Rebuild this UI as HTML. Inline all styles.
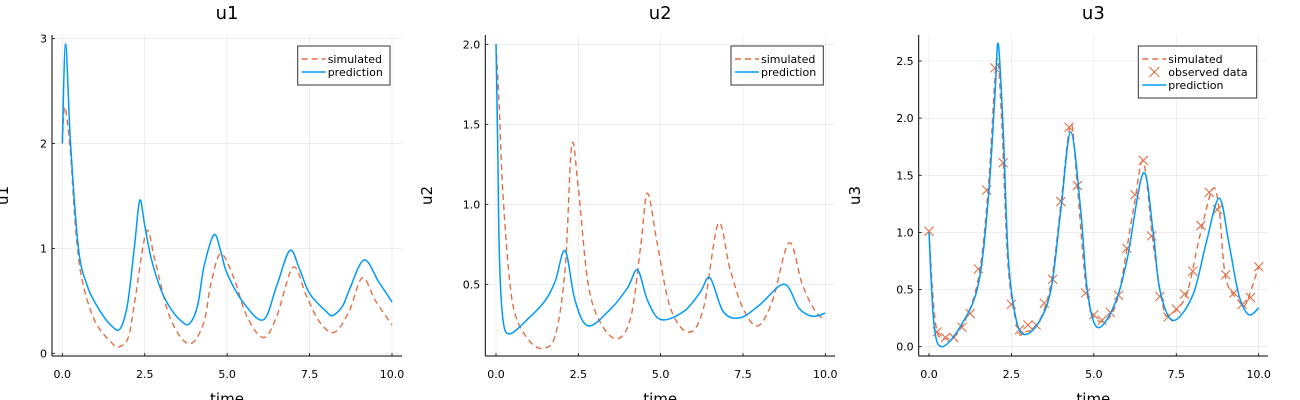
<!DOCTYPE html>
<html><head><meta charset="utf-8"><style>
body{margin:0;background:#fff;}
svg{display:block;font-family:"DejaVu Sans","Liberation Sans",sans-serif;}
</style></head><body>
<svg id="chart" width="1300" height="400" viewBox="0 0 1300 400"></svg>
<script>
// ---- data ----
const xTicks = [0, 2.5, 5, 7.5, 10];
const xTickLabels = ["0.0", "2.5", "5.0", "7.5", "10.0"];
const u1Ticks = [0, 1, 2, 3];
const u1TickLabels = ["0", "1", "2", "3"];
const u2Ticks = [0.5, 1.0, 1.5, 2.0];
const u2TickLabels = ["0.5", "1.0", "1.5", "2.0"];
const u3Ticks = [0, 0.5, 1.0, 1.5, 2.0, 2.5];
const u3TickLabels = ["0.0", "0.5", "1.0", "1.5", "2.0", "2.5"];

const u1PredT = [0,0.1,0.25,0.49,0.75,1.0,1.3,1.5,1.7,1.85,2.0,2.2,2.35,2.5,2.7,3.0,3.3,3.6,3.85,4.1,4.3,4.6,4.8,5.0,5.5,6.1,6.5,6.9,7.2,7.5,8.0,8.2,8.5,8.7,9.15,9.6,10];
const u1PredV = [2.0,2.95,2.0,1.0,0.65,0.48,0.33,0.26,0.22,0.3,0.51,1.05,1.46,1.22,0.9,0.6,0.42,0.31,0.28,0.45,0.83,1.13,0.98,0.76,0.48,0.32,0.64,0.98,0.8,0.57,0.4,0.36,0.45,0.6,0.89,0.68,0.49];
const u1SimT = [0,0.08,0.25,0.4,0.6,1.0,1.5,1.7,2.0,2.2,2.55,2.8,3.2,3.6,3.95,4.3,4.5,4.8,5.2,5.6,6.1,6.5,7.0,7.4,7.8,8.25,8.7,9.1,9.5,10];
const u1SimV = [2.0,2.35,1.9,1.2,0.7,0.3,0.1,0.06,0.15,0.5,1.16,0.9,0.4,0.15,0.1,0.3,0.65,0.95,0.72,0.35,0.15,0.35,0.82,0.55,0.3,0.2,0.4,0.72,0.5,0.27];

const u2PredT = [0,0.05,0.1,0.2,0.4,1.0,1.5,1.8,2.1,2.4,2.8,3.5,4.0,4.3,4.6,5.0,5.7,6.2,6.5,6.9,7.4,8.0,8.75,9.2,9.6,10];
const u2PredV = [2.0,1.4,0.7,0.3,0.19,0.29,0.4,0.52,0.71,0.4,0.24,0.35,0.48,0.59,0.4,0.28,0.33,0.45,0.54,0.33,0.29,0.37,0.5,0.35,0.3,0.32];
const u2SimT = [0,0.1,0.2,0.4,0.6,1.0,1.4,1.8,2.1,2.3,2.5,2.8,3.2,3.7,4.1,4.4,4.6,4.9,5.3,5.85,6.3,6.75,7.1,7.5,7.95,8.4,8.9,9.3,9.7,10];
const u2SimV = [2.0,1.6,1.1,0.55,0.3,0.15,0.1,0.18,0.6,1.37,1.1,0.5,0.25,0.16,0.3,0.75,1.07,0.75,0.35,0.2,0.35,0.88,0.6,0.35,0.24,0.4,0.76,0.5,0.33,0.28];

const u3PredT = [0,0.15,0.4,1.0,1.5,1.8,2.0,2.1,2.25,2.4,2.6,2.85,3.3,3.7,4.0,4.3,4.6,4.8,5.1,5.6,6.0,6.5,6.8,7.0,7.4,8.0,8.4,8.8,9.1,9.4,9.7,10];
const u3PredV = [1.0,0.2,0.0,0.2,0.55,1.3,2.2,2.65,1.9,0.8,0.3,0.11,0.2,0.5,1.2,1.88,1.2,0.5,0.17,0.35,0.75,1.52,1.0,0.5,0.23,0.45,0.9,1.3,0.9,0.45,0.28,0.34];
const u3SimT = [0,0.2,0.5,1.0,1.5,1.8,2.05,2.2,2.4,2.7,2.9,3.3,3.7,4.0,4.3,4.5,4.8,5.2,5.7,6.2,6.5,6.8,7.1,7.3,7.8,8.2,8.6,8.8,9.0,9.4,9.6,10];
const u3SimV = [1.0,0.2,0.07,0.18,0.6,1.4,2.5,2.0,0.7,0.15,0.13,0.2,0.55,1.25,1.95,1.4,0.45,0.22,0.4,1.2,1.62,0.9,0.35,0.28,0.45,0.95,1.38,1.2,0.6,0.4,0.37,0.7];
const u3ObsT = [0,0.25,0.5,0.75,1,1.25,1.5,1.75,2,2.25,2.5,2.75,3,3.25,3.5,3.75,4,4.25,4.5,4.75,5,5.25,5.5,5.75,6,6.25,6.5,6.75,7,7.25,7.5,7.75,8,8.25,8.5,8.75,9,9.25,9.5,9.75,10];
const u3ObsV = [1.01,0.13,0.08,0.08,0.17,0.29,0.68,1.37,2.44,1.61,0.37,0.15,0.19,0.19,0.38,0.59,1.27,1.92,1.41,0.47,0.28,0.23,0.30,0.45,0.86,1.33,1.63,0.97,0.44,0.26,0.33,0.46,0.66,1.06,1.35,1.2,0.63,0.47,0.37,0.43,0.70];

const SIM = "#e26f46", PRED = "#009af9";
const NS = "http://www.w3.org/2000/svg";
const svg = document.getElementById("chart");
function mk(tag, attrs, parent){ const e=document.createElementNS(NS,tag); for(const k in attrs) e.setAttribute(k,attrs[k]); (parent||svg).appendChild(e); return e; }
function smooth(pts){
  let d="M"+pts[0][0].toFixed(2)+","+pts[0][1].toFixed(2);
  for(let i=0;i<pts.length-1;i++){
    const p0=pts[Math.max(0,i-1)],p1=pts[i],p2=pts[i+1],p3=pts[Math.min(pts.length-1,i+2)];
    const c1=[p1[0]+(p2[0]-p0[0])/6,p1[1]+(p2[1]-p0[1])/6];
    const c2=[p2[0]-(p3[0]-p1[0])/6,p2[1]-(p3[1]-p1[1])/6];
    d+=" C"+c1[0].toFixed(2)+","+c1[1].toFixed(2)+" "+c2[0].toFixed(2)+","+c2[1].toFixed(2)+" "+p2[0].toFixed(2)+","+p2[1].toFixed(2);
  }
  return d;
}

function panel(cfg){
  const g = mk("g",{});
  
  
  const X = t => cfg.x0 + (t-0)*(cfg.x10-cfg.x0)/10;
  const Y = v => cfg.ya + (v-cfg.va)*(cfg.yb-cfg.ya)/(cfg.vb-cfg.va);
  xTicks.forEach(t=>{ const l=mk("line",{x1:X(t),x2:X(t),y1:cfg.top,y2:cfg.bottom,stroke:"#000","stroke-opacity":0.1,"stroke-width":0.6},g);
      });
  cfg.yTicks.forEach(v=>{ const l=mk("line",{x1:cfg.left,x2:cfg.right,y1:Y(v),y2:Y(v),stroke:"#000","stroke-opacity":0.1,"stroke-width":0.6},g);
      });
  const ax=mk("line",{x1:cfg.left,x2:cfg.right,y1:cfg.bottom,y2:cfg.bottom,stroke:"#000","stroke-width":1},g);
   
  const ay=mk("line",{x1:cfg.left,x2:cfg.left,y1:cfg.top,y2:cfg.bottom,stroke:"#000","stroke-width":1},g);
   
  xTicks.forEach((t,i)=>{
    mk("line",{x1:X(t),x2:X(t),y1:cfg.bottom,y2:cfg.bottom-3,stroke:"#000","stroke-width":0.8},g);
    const tx=mk("text",{x:X(t),y:cfg.bottom+22,"text-anchor":"middle","font-size":11,fill:"#000"},g);
    tx.textContent=xTickLabels[i];
     
  });
  cfg.yTicks.forEach((v,i)=>{
    mk("line",{x1:cfg.left,x2:cfg.left+3,y1:Y(v),y2:Y(v),stroke:"#000","stroke-width":0.8},g);
    const tx=mk("text",{x:cfg.left-5,y:Y(v)+4,"text-anchor":"end","font-size":11,fill:"#000"},g);
    tx.textContent=cfg.yLabels[i];
     
  });
  const ti=mk("text",{x:(cfg.left+cfg.right)/2,y:19,"text-anchor":"middle","font-size":18,fill:"#000"},g);
  ti.textContent=cfg.name;
   
  const xl=mk("text",{x:(cfg.left+cfg.right)/2,y:404,"text-anchor":"middle","font-size":15,fill:"#000"},g);
  xl.textContent="time";
   
  const yl=mk("text",{x:0,y:0,"text-anchor":"middle","font-size":15,fill:"#000",transform:"translate("+cfg.ylx+","+(cfg.top+cfg.bottom)/2+") rotate(-90)"},g);
  yl.textContent=cfg.name;
   
  const sim=mk("path",{d:smooth(cfg.simT.map((t,i)=>[X(t),Y(cfg.simV[i])])),fill:"none",stroke:SIM,"stroke-width":1.4,"stroke-dasharray":"6,4"},g);
   
  if(cfg.obsT){
    cfg.obsT.forEach((t,i)=>{ const cx=X(t),cy=Y(cfg.obsV[i]),s=4.5;
      const m=mk("path",{d:`M${cx-s},${cy-s}L${cx+s},${cy+s}M${cx-s},${cy+s}L${cx+s},${cy-s}`,stroke:SIM,"stroke-width":1.1,fill:"none"},g);
        });
  }
  const pr=mk("path",{d:smooth(cfg.predT.map((t,i)=>[X(t),Y(cfg.predV[i])])),fill:"none",stroke:PRED,"stroke-width":1.5},g);
   
  const L=cfg.leg; const rows=cfg.obsT?3:2;
  const lg=mk("g",{},g);
   
  mk("rect",{x:L[0],y:46,width:L[1]-L[0],height:rows*13+13,fill:"#fff",stroke:"#333","stroke-width":1},lg);
  const names=cfg.obsT?["simulated","observed data","prediction"]:["simulated","prediction"];
  names.forEach((n,i)=>{
    const yy=59+i*13;
    if(n==="simulated") mk("line",{x1:L[0]+4,x2:L[0]+28,y1:yy,y2:yy,stroke:SIM,"stroke-width":1.4,"stroke-dasharray":"6,4"},lg);
    else if(n==="prediction") mk("line",{x1:L[0]+4,x2:L[0]+28,y1:yy,y2:yy,stroke:PRED,"stroke-width":1.5},lg);
    else { const cx=L[0]+16; mk("path",{d:`M${cx-5},${yy-5}L${cx+5},${yy+5}M${cx-5},${yy+5}L${cx+5},${yy-5}`,stroke:SIM,"stroke-width":1.1},lg); }
    const tx=mk("text",{x:L[0]+30,y:yy+4,"font-size":11,fill:"#000"},lg);
    tx.textContent=n;
     
  });
}

panel({name:"u1",left:52,right:402,top:35,bottom:356,x0:62.3,x10:392,ya:353.3,va:0,yb:38.7,vb:3,
  yTicks:u1Ticks,yLabels:u1TickLabels,ylx:8,simT:u1SimT,simV:u1SimV,predT:u1PredT,predV:u1PredV,leg:[297.7,390]});
panel({name:"u2",left:485.3,right:835,top:35,bottom:356,x0:496,x10:825.3,ya:284.3,va:0.5,yb:44.3,vb:2.0,
  yTicks:u2Ticks,yLabels:u2TickLabels,ylx:432,simT:u2SimT,simV:u2SimV,predT:u2PredT,predV:u2PredV,leg:[731,823.3]});
panel({name:"u3",left:918.7,right:1268,top:35,bottom:356,x0:929,x10:1258.7,ya:346.7,va:0,yb:61,vb:2.5,
  yTicks:u3Ticks,yLabels:u3TickLabels,ylx:860,simT:u3SimT,simV:u3SimV,predT:u3PredT,predV:u3PredV,obsT:u3ObsT,obsV:u3ObsV,leg:[1138.3,1256.7]});
</script>
</body></html>
